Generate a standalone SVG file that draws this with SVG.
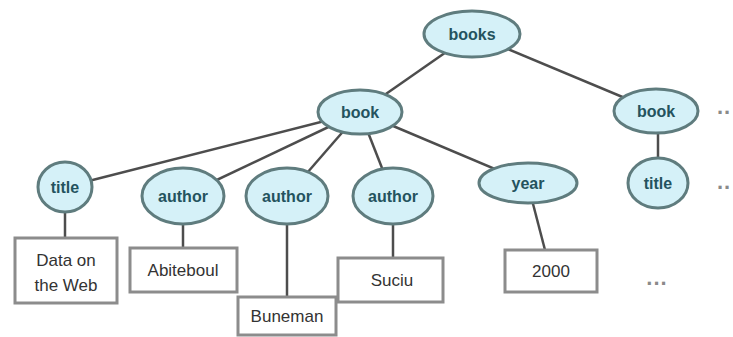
<svg xmlns="http://www.w3.org/2000/svg" width="733" height="337" viewBox="0 0 733 337">
  <style>
    .el { fill: #d5f1f8; stroke: #5f7c7e; stroke-width: 3; }
    .elt { font-family: "Liberation Sans", Arial, sans-serif; font-size: 16px; font-weight: bold; fill: #24535e; text-anchor: middle; }
    .box { fill: #ffffff; stroke: #8c8c8c; stroke-width: 3; }
    .bxt { font-family: "Liberation Sans", Arial, sans-serif; font-size: 17px; fill: #333333; text-anchor: middle; }
    .edge { stroke: #4d4d4d; stroke-width: 2.5; fill: none; }
    .dots { font-family: "Liberation Sans", Arial, sans-serif; font-size: 22px; font-weight: bold; fill: #8a8a8a; text-anchor: middle; letter-spacing: 1px; }
  </style>
  <rect width="733" height="337" fill="#ffffff"/>
  <g id="connectors">
    <line class="edge" x1="472" y1="34" x2="360" y2="112"/>
    <line class="edge" x1="472" y1="34" x2="656" y2="111"/>
    <line class="edge" x1="360" y1="112" x2="65" y2="187"/>
    <line class="edge" x1="360" y1="112" x2="183" y2="196"/>
    <line class="edge" x1="360" y1="112" x2="287" y2="196"/>
    <line class="edge" x1="360" y1="112" x2="393" y2="196"/>
    <line class="edge" x1="360" y1="112" x2="528" y2="183"/>
    <line class="edge" x1="658" y1="111" x2="658" y2="183"/>
    <line class="edge" x1="65" y1="187" x2="65" y2="238"/>
    <line class="edge" x1="183" y1="196" x2="183" y2="248"/>
    <line class="edge" x1="287" y1="196" x2="287" y2="297"/>
    <line class="edge" x1="393" y1="196" x2="393" y2="258"/>
    <line class="edge" x1="532" y1="200" x2="545" y2="250"/>
  </g>
  <g id="n-books"><ellipse class="el" cx="472" cy="34" rx="48" ry="23"/><text class="elt" x="472" y="34" dy="0.35em">books</text></g>
  <g id="n-book1"><ellipse class="el" cx="360" cy="112" rx="42" ry="22"/><text class="elt" x="360" y="112" dy="0.35em">book</text></g>
  <g id="n-book2"><ellipse class="el" cx="656" cy="111" rx="42" ry="22"/><text class="elt" x="656" y="111" dy="0.35em">book</text></g>
  <g id="n-title1"><ellipse class="el" cx="65" cy="187" rx="27" ry="25"/><text class="elt" x="65" y="187" dy="0.35em">title</text></g>
  <g id="n-author1"><ellipse class="el" cx="183" cy="196" rx="41" ry="28"/><text class="elt" x="183" y="196" dy="0.35em">author</text></g>
  <g id="n-author2"><ellipse class="el" cx="287" cy="196" rx="41" ry="28"/><text class="elt" x="287" y="196" dy="0.35em">author</text></g>
  <g id="n-author3"><ellipse class="el" cx="393" cy="196" rx="40" ry="28"/><text class="elt" x="393" y="196" dy="0.35em">author</text></g>
  <g id="n-year"><ellipse class="el" cx="528" cy="183" rx="49" ry="20"/><text class="elt" x="528" y="183" dy="0.35em">year</text></g>
  <g id="n-title2"><ellipse class="el" cx="658" cy="183" rx="30" ry="25"/><text class="elt" x="658" y="183" dy="0.35em">title</text></g>
  <g id="n-data"><rect class="box" x="15" y="238" width="102" height="65"/><text class="bxt" x="66" y="266">Data on</text><text class="bxt" x="66" y="291">the Web</text></g>
  <g id="n-abiteboul"><rect class="box" x="130" y="248" width="107" height="44"/><text class="bxt" x="183" y="276">Abiteboul</text></g>
  <g id="n-buneman"><rect class="box" x="238" y="297" width="98" height="38"/><text class="bxt" x="287" y="322">Buneman</text></g>
  <g id="n-suciu"><rect class="box" x="338" y="258" width="105" height="44"/><text class="bxt" x="392" y="286">Suciu</text></g>
  <g id="n-2000"><rect class="box" x="505" y="250" width="92" height="42"/><text class="bxt" x="551" y="277">2000</text></g>
  <g id="n-dots1"><text class="dots" x="724" y="114">..</text></g>
  <g id="n-dots2"><text class="dots" x="724" y="189">..</text></g>
  <g id="n-dots3"><text class="dots" x="657" y="285">...</text></g>
</svg>
